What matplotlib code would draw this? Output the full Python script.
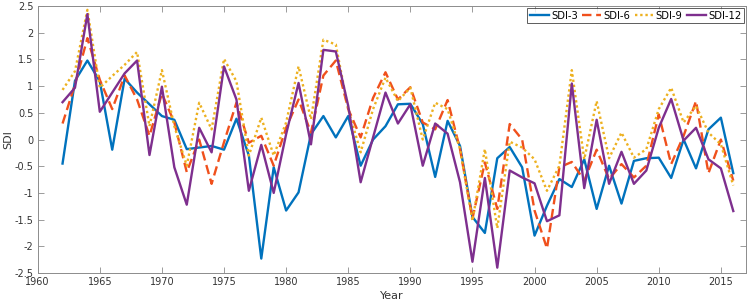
import numpy as np
import matplotlib
matplotlib.use('Agg')
from matplotlib import pyplot as plt

years = np.arange(1962, 2017)

sdi3 = [-0.45, 1.1, 1.48, 1.09, -0.19, 1.14, 0.88, 0.66, 0.44, 0.37,
        -0.18, -0.15, -0.12, -0.19, 0.39, -0.3, -2.23, -0.52, -1.33, -0.99,
        0.1, 0.44, 0.04, 0.44, -0.49, 0.0, 0.25, 0.66, 0.67, 0.29,
        -0.7, 0.35, -0.12, -1.45, -1.75, -0.35, -0.14, -0.52, -1.8, -1.24,
        -0.74, -0.89, -0.37, -1.3, -0.49, -1.2, -0.4, -0.35, -0.34, -0.72,
        0.0, -0.54, 0.19, 0.41, -0.63]

sdi6 = [0.3, 1.03, 1.9, 1.12, 0.57, 1.2, 0.75, 0.07, 0.86, 0.32,
        -0.61, 0.0, -0.83, -0.05, 0.69, -0.06, 0.07, -0.49, 0.22, 0.75,
        0.13, 1.2, 1.48, 0.57, 0.04, 0.78, 1.26, 0.75, 0.98, 0.32,
        0.19, 0.74, -0.18, -1.48, -0.43, -1.3, 0.29, 0.0, -1.33, -2.04,
        -0.52, -0.42, -0.77, -0.19, -0.74, -0.46, -0.71, -0.49, 0.47, -0.46,
        0.07, 0.72, -0.63, 0.0, -0.77]

sdi9 = [0.93, 1.28, 2.43, 0.97, 1.19, 1.4, 1.64, 0.25, 1.3, 0.25,
        -0.49, 0.69, 0.19, 1.51, 1.09, -0.3, 0.41, -0.3, 0.32, 1.37,
        0.38, 1.87, 1.78, 0.57, -0.24, 0.57, 1.16, 0.72, 0.97, 0.0,
        0.69, 0.57, -0.18, -1.52, -0.18, -1.66, -0.04, -0.15, -0.37, -0.96,
        -0.49, 1.3, -0.37, 0.72, -0.35, 0.13, -0.34, -0.18, 0.57, 0.97,
        0.32, 0.63, 0.13, -0.09, -0.86]

sdi12 = [0.7, 0.97, 2.35, 0.52, 0.88, 1.24, 1.48, -0.29, 0.99, -0.52,
         -1.22, 0.22, -0.24, 1.37, 0.75, -0.96, -0.1, -1.0, 0.1, 1.06,
         -0.09, 1.68, 1.65, 0.63, -0.8, 0.04, 0.88, 0.3, 0.66, -0.49,
         0.3, 0.11, -0.8, -2.29, -0.72, -2.4, -0.58, -0.71, -0.82, -1.53,
         -1.42, 1.05, -0.91, 0.37, -0.83, -0.23, -0.83, -0.58, 0.22, 0.76,
         -0.02, 0.22, -0.37, -0.54, -1.34]

fig = plt.figure(figsize=(7.54, 3.05), dpi=100)
axes = fig.add_axes([0.05, 0.105, 0.939, 0.875])

axes.plot(years, sdi3, linewidth=1.7, color='#0072BD', linestyle='-', label='SDI-3')
axes.plot(years, sdi6, linewidth=1.7, color='#F0501C', linestyle=(0, (4, 2)), label='SDI-6')
axes.plot(years, sdi9, linewidth=1.7, color='#EDB120', linestyle=(0, (1, 1.2)), label='SDI-9')
axes.plot(years, sdi12, linewidth=1.7, color='#7E2F8E', linestyle='-', label='SDI-12')

axes.set_xlim(1960, 2017)
axes.set_ylim(-2.5, 2.5)
axes.set_xticks(np.arange(1960, 2016, 5))
axes.set_yticks(np.arange(-2.5, 2.51, 0.5))
axes.set_yticklabels(['-2.5', '-2', '-1.5', '-1', '-0.5', '0', '0.5', '1', '1.5', '2', '2.5'])

axes.tick_params(direction='in', length=4, width=0.6, color='#8c8c8c', labelcolor='#333333',
                 labelsize=7, pad=3, top=True, right=True, labeltop=False, labelright=False)
for sp in axes.spines.values():
    sp.set_color('#8c8c8c')
    sp.set_linewidth(0.7)

axes.set_xlabel('Year', fontsize=8, labelpad=3, color='#333333')
axes.set_ylabel('SDI', fontsize=8, labelpad=1, color='#333333')

leg = axes.legend(loc='upper right', ncol=4, prop={'size': 7.2}, frameon=True, fancybox=False,
                  borderaxespad=0.2, handlelength=1.9, handletextpad=0.2, columnspacing=0.45,
                  borderpad=0.25)
leg.get_frame().set_edgecolor('#333333')
leg.get_frame().set_linewidth(0.7)

fig.savefig('out.png', dpi=100)
